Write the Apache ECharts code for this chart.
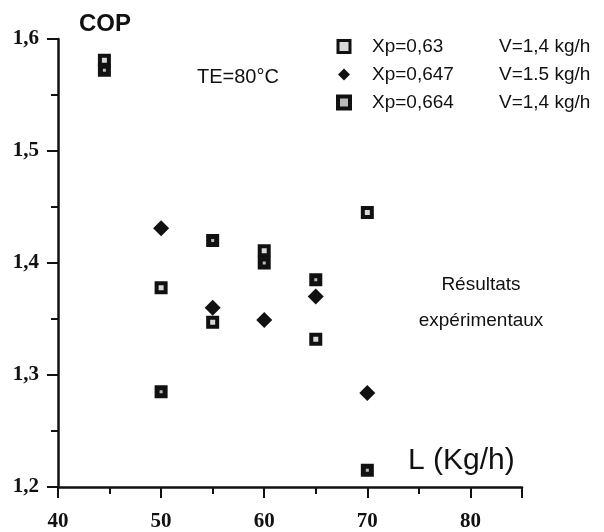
<!DOCTYPE html>
<html>
<head>
<meta charset="utf-8">
<script src="https://cdn.jsdelivr.net/npm/echarts@6/dist/echarts.min.js"></script>
<style>
  html, body { margin: 0; padding: 0; background: #fff; }
  #chart { width: 604px; height: 532px; }
</style>
</head>
<body>
<div id="chart"></div>
<script>
// data
var names = ['Xp=0,63', 'Xp=0,647', 'Xp=0,664'];
var flows = ['V=1,4 kg/h', 'V=1.5 kg/h', 'V=1,4 kg/h'];

var xp063 = [[44.5, 1.581], [50, 1.378], [55, 1.347], [60, 1.411], [65, 1.332], [70, 1.445]];
var xp0647 = [[50, 1.431], [55, 1.36], [60, 1.349], [65, 1.37], [70, 1.284]];
var xp0664 = [[44.5, 1.572], [50, 1.285], [55, 1.42], [60, 1.4], [65, 1.385], [70, 1.215]];

var yTicks = [1.2, 1.3, 1.4, 1.5, 1.6];

var ink = '#111';
var chart = echarts.init(document.getElementById('chart'));

var flowByName = {};
names.forEach(function (n, i) { flowByName[n] = flows[i]; });

chart.setOption({
    animation: false,
    backgroundColor: '#fff',
    grid: { left: 58, right: 82, top: 39, bottom: 45 },
    legend: {
        orient: 'vertical',
        left: 331,
        top: 32,
        itemWidth: 12,
        itemHeight: 12,
        itemGap: 9,
        data: [
            { name: names[0], itemStyle: { borderWidth: 3 } },
            { name: names[1] },
            { name: names[2], itemStyle: { borderWidth: 4 } }
        ],
        formatter: function (n) {
            return '{s|}{a|' + n + '}{b|' + flowByName[n] + '}';
        },
        textStyle: {
            color: ink,
            fontFamily: 'Liberation Sans',
            fontSize: 19,
            rich: {
                s: { width: 17 },
                a: { width: 127, fontSize: 19, fontFamily: 'Liberation Sans', color: ink },
                b: { fontSize: 19, fontFamily: 'Liberation Sans', color: ink }
            }
        }
    },
    xAxis: [{
        type: 'value',
        min: 40,
        max: 85,
        interval: 5,
        splitLine: { show: false },
        axisLine: { lineStyle: { color: ink, width: 2.5 } },
        axisTick: { length: 7, lineStyle: { color: ink, width: 2 } },
        axisLabel: {
            margin: 24,
            color: ink,
            fontFamily: 'Liberation Serif',
            fontWeight: 'bold',
            fontSize: 21,
            showMaxLabel: false,
            formatter: function (v) { return (v % 10 === 0 && v <= 80) ? String(v) : ''; }
        }
    }, {
        type: 'value',
        position: 'bottom',
        min: 40,
        max: 85,
        interval: 10,
        splitLine: { show: false },
        axisLine: { show: false },
        axisTick: { length: 11, lineStyle: { color: ink, width: 2 } },
        axisLabel: { show: false }
    }],
    yAxis: {
        type: 'value',
        min: 1.2,
        max: 1.6,
        interval: 0.1,
        splitLine: { show: false },
        axisLine: { show: true, lineStyle: { color: ink, width: 2.5 } },
        axisTick: { show: true, length: 11, lineStyle: { color: ink, width: 2 } },
        minorTick: { show: true, splitNumber: 2, length: 7, lineStyle: { color: ink, width: 2 } },
        axisLabel: {
            margin: 19,
            color: ink,
            fontFamily: 'Liberation Serif',
            fontWeight: 'bold',
            fontSize: 21,
            formatter: function (v) {
                var t = yTicks.filter(function (k) { return Math.abs(k - v) < 1e-6; })[0];
                return t === undefined ? '' : t.toFixed(1).replace('.', ',');
            }
        }
    },
    graphic: [
        { type: 'text', left: 79, top: 12, style: { text: 'COP', fill: ink, font: 'bold 24px "Liberation Sans"' } },
        { type: 'text', left: 197, top: 67, style: { text: 'TE=80°C', fill: ink, font: '20px "Liberation Sans"' } },
        { type: 'text', left: 408, top: 446, style: { text: 'L (Kg/h)', fill: ink, font: '30px "Liberation Sans"' } },
        { type: 'text', x: 481, y: 285, style: { text: 'Résultats', fill: ink, font: '19px "Liberation Sans"', align: 'center', verticalAlign: 'middle' } },
        { type: 'text', x: 481, y: 321, style: { text: 'expérimentaux', fill: ink, font: '19px "Liberation Sans"', align: 'center', verticalAlign: 'middle' } }
    ],
    series: [{
        name: names[0],
        type: 'scatter',
        data: xp063,
        symbol: 'rect',
        symbolSize: 9,
        itemStyle: { color: '#d8d8d8', borderColor: ink, borderWidth: 4, opacity: 1 }
    }, {
        name: names[1],
        type: 'scatter',
        data: xp0647,
        symbol: 'diamond',
        symbolSize: 16,
        itemStyle: { color: ink, opacity: 1 }
    }, {
        name: names[2],
        type: 'scatter',
        data: xp0664,
        symbol: 'rect',
        symbolSize: 8,
        itemStyle: { color: '#bbbbbb', borderColor: ink, borderWidth: 5, opacity: 1 }
    }]
});
</script>
</body>
</html>
